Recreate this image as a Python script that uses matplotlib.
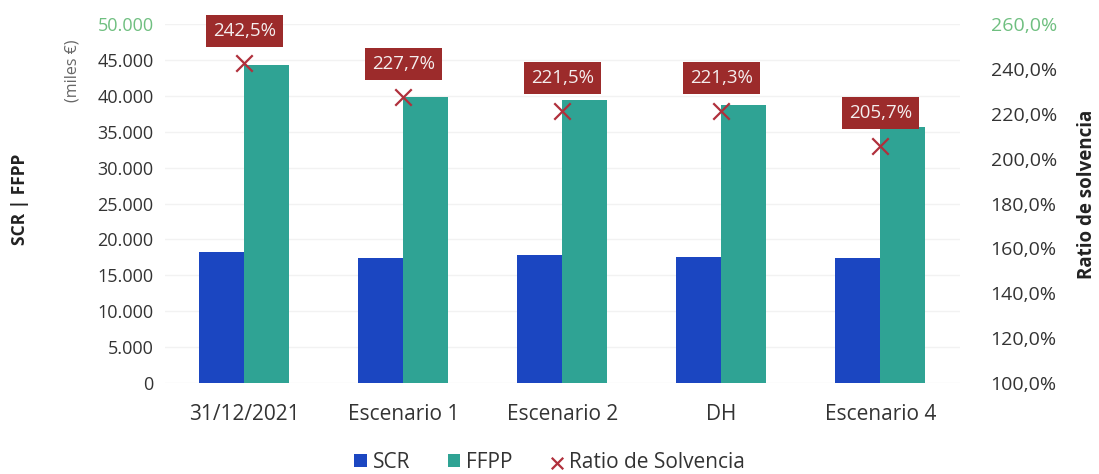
import matplotlib.pyplot as plt
import numpy as np
from matplotlib.ticker import FuncFormatter

plt.rcParams['font.family'] = ['Open Sans', 'DejaVu Sans']

categories = ['31/12/2021', 'Escenario 1', 'Escenario 2', 'DH', 'Escenario 4']
scr = [18270, 17480, 17790, 17490, 17360]
ffpp = [44300, 39800, 39400, 38700, 35700]
ratio = [242.5, 227.7, 221.5, 221.3, 205.7]

c_scr = '#1b46c1'
c_ffpp = '#2fa394'
c_ratio = '#b0303c'
c_box = '#9c2b2b'
c_tick = '#333333'
c_green = '#6fbf80'

fig = plt.figure(figsize=(10.99, 4.74), dpi=100)
ax = fig.add_axes([0.150, 0.192, 0.7235, 0.757])
ax2 = ax.twinx()

x = np.arange(len(categories))
w = 0.283
ax.bar(x - w / 2, scr, w, color=c_scr, label='SCR', zorder=2)
ax.bar(x + w / 2, ffpp, w, color=c_ffpp, label='FFPP', zorder=2)

ax.set_xlim(-0.5, len(categories) - 0.5)
ax.set_ylim(0, 50000)
ax.set_yticks(np.arange(0, 50001, 5000))
ax.yaxis.set_major_formatter(FuncFormatter(lambda v, p: f'{int(v):,}'.replace(',', '.')))
ax.grid(axis='y', color='#f2f2f2', linewidth=1, zorder=0)
ax.set_axisbelow(True)
ax.set_xticks(x)
ax.set_xticklabels(categories)
ax.tick_params(axis='x', length=0, pad=15, labelsize=15, colors=c_tick)
ax.tick_params(axis='y', length=0, pad=8, labelsize=13, colors=c_tick)
ax.get_yticklabels()[-1].set_color(c_green)

ax2.set_ylim(100, 260)
ax2.set_yticks(np.arange(100, 261, 20))
ax2.yaxis.set_major_formatter(FuncFormatter(lambda v, p: f'{v:.1f}%'.replace('.', ',')))
ax2.tick_params(axis='y', length=0, pad=22, labelsize=14, colors=c_tick)
ax2.get_yticklabels()[-1].set_color(c_green)

ax2.scatter(x, ratio, marker='x', s=140, linewidths=1.6, color=c_ratio, zorder=4,
            label='Ratio de Solvencia')
for xi, r in zip(x, ratio):
    ax2.annotate(f'{r:.1f}%'.replace('.', ','), (xi, r), xytext=(0, 17),
                 textcoords='offset points', ha='center', va='bottom',
                 fontsize=13.5, color='#f4eeee',
                 bbox=dict(boxstyle='square,pad=0.38', fc=c_box, ec='none'))

for a in (ax, ax2):
    for s in a.spines.values():
        s.set_visible(False)

fig.text(0.018, 0.58, 'SCR | FFPP', rotation=90, ha='center', va='center',
         fontsize=12.5, fontweight='bold', color='#222222')
fig.text(0.066, 0.85, '(miles €)', rotation=90, ha='center', va='center',
         fontsize=11.5, color='#666666')
fig.text(0.989, 0.59, 'Ratio de solvencia', rotation=90, ha='center', va='center',
         fontsize=13.5, fontweight='bold', color='#222222')

h1, l1 = ax.get_legend_handles_labels()
h2, l2 = ax2.get_legend_handles_labels()
fig.legend(h1 + h2, l1 + l2, loc='center', bbox_to_anchor=(0.5, 0.025), ncol=3,
           frameon=False, fontsize=15, handlelength=0.6, handleheight=0.6,
           handletextpad=0.3, columnspacing=1.8, labelcolor='#333333',
           markerscale=0.7)

fig.savefig('out.png', dpi=100)
